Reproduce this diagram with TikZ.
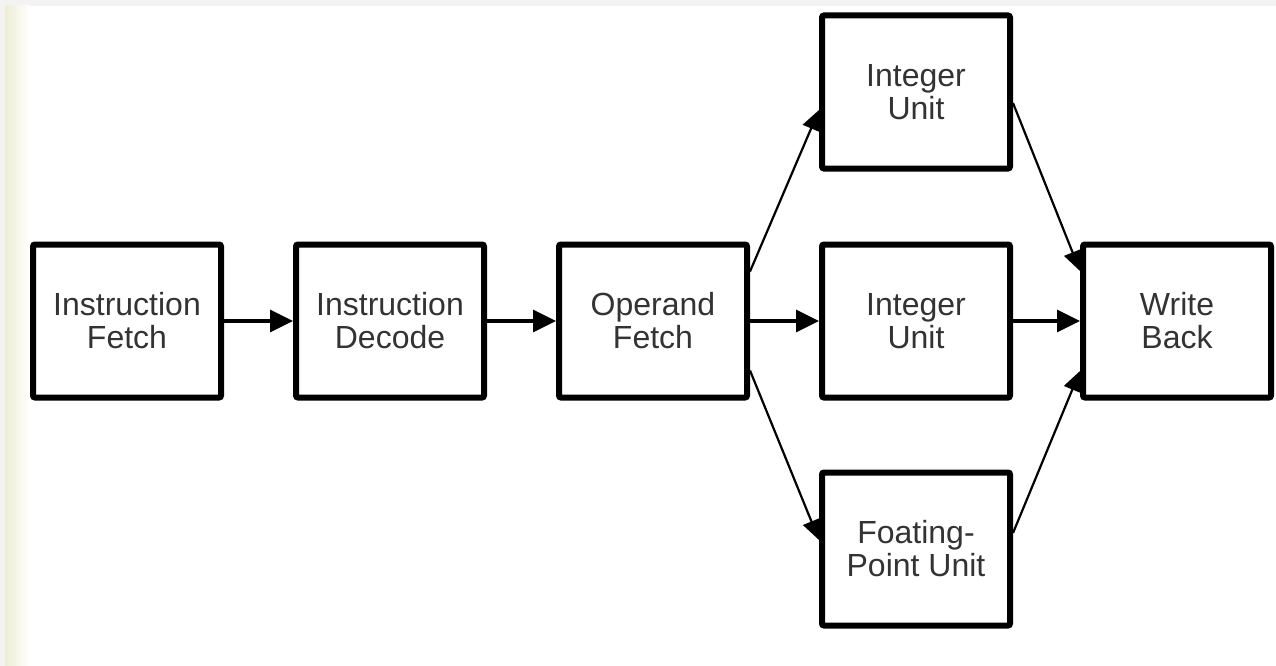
\documentclass[tikz,border=0pt]{standalone}
\usepackage{fontspec}
\setmainfont{Liberation Sans}
\usetikzlibrary{arrows.meta}
\definecolor{txt}{HTML}{333333}
\definecolor{band}{HTML}{F3F3F3}
\definecolor{cream}{HTML}{EEEED6}
\tikzset{
  x=1pt, y=1pt,
  stage/.style={draw=black, line width=6pt, rounded corners=2pt, fill=white,
    minimum width=188pt, minimum height=153pt, inner sep=0pt,
    align=center, text=txt, font=\fontsize{32}{33}\selectfont},
  flow/.style={line width=3.2pt, -{Triangle[length=23pt,width=22pt]}},
  slant/.style={line width=2.2pt, -{Triangle[length=20pt,width=18pt]}}
}
\begin{document}
\begin{tikzpicture}
\useasboundingbox (0,0) rectangle (1276,-666);
\fill[white] (0,0) rectangle (1276,-666);
\fill[band] (0,0) rectangle (1276,-6);
\fill[band] (0,0) rectangle (5,-666);
\shade[left color=cream, right color=white] (5,-6) rectangle (30,-666);

\node[stage] (IF)  at (127,-321) {Instruction\\Fetch};
\node[stage] (ID)  at (390,-321) {Instruction\\Decode};
\node[stage] (OF)  at (653,-321) {Operand\\Fetch};
\node[stage] (IU1) at (916,-92)  {Integer\\Unit};
\node[stage] (IU2) at (916,-321) {Integer\\Unit};
\node[stage] (FPU) at (916,-549) {Foating-\\Point Unit};
\node[stage] (WB)  at (1177,-321) {Write\\Back};

\draw[flow] (IF) -- (ID);
\draw[flow] (ID) -- (OF);
\draw[flow] (OF) -- (IU2);
\draw[flow] (IU2) -- (WB);
\draw[slant] ([yshift=-30pt]OF.north east) -- ([yshift=-18pt]IU1.west);
\draw[slant] ([yshift=30pt]OF.south east) -- ([yshift=9pt]FPU.west);
\draw[slant] ([yshift=-11pt]IU1.east) -- ([yshift=50pt]WB.west);
\draw[slant] ([yshift=16pt]FPU.east) -- ([yshift=-50pt]WB.west);
\end{tikzpicture}
\end{document}
